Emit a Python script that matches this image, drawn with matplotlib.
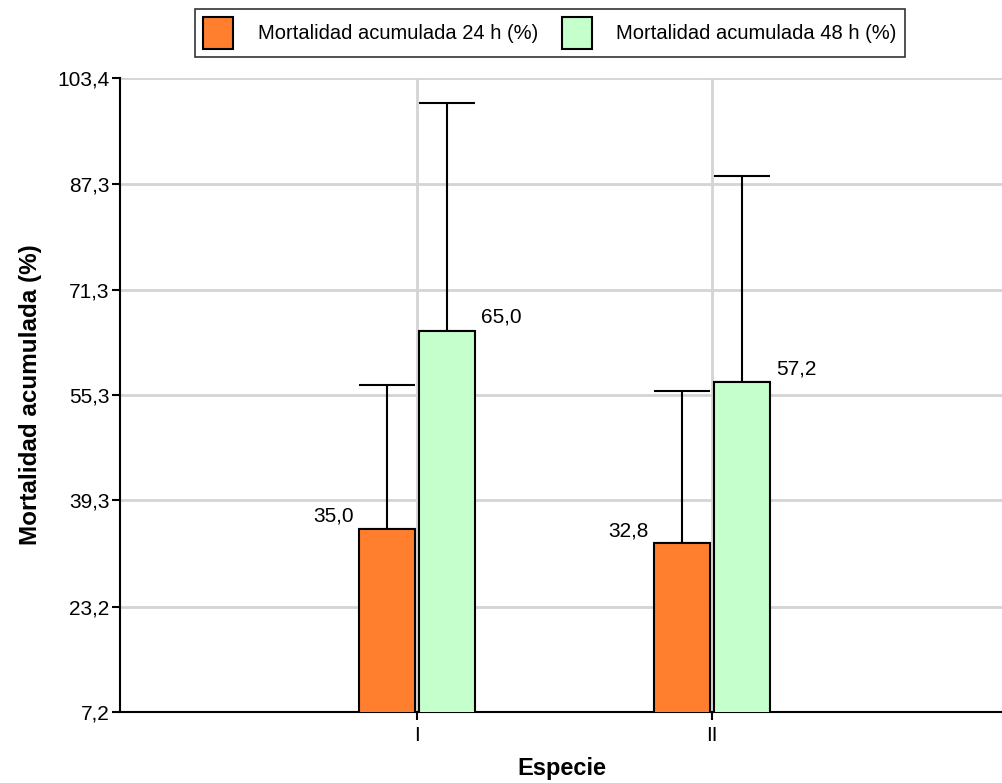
import matplotlib
matplotlib.use("Agg")
import matplotlib.pyplot as plt
from matplotlib.patches import Patch

plt.rcParams["font.family"] = ["Liberation Sans", "DejaVu Sans"]

# Data
species = ["I", "II"]
mort_24h = [35.0, 32.8]
mort_48h = [65.0, 57.2]
err_24h = [21.8, 23.1]
err_48h = [34.6, 31.3]
yticks = [7.2, 23.2, 39.3, 55.3, 71.3, 87.3, 103.4]
series_names = ["Mortalidad acumulada 24 h (%)", "Mortalidad acumulada 48 h (%)"]

c24 = "#FF7F2F"
c48 = "#C4FFCC"

fig = plt.figure(figsize=(10.03, 7.83), dpi=100)
ax = fig.add_axes([120 / 1003, 1 - 712 / 783, 1 - 120 / 1003, (712 - 78) / 783])

x = list(range(len(species)))
w = 0.19
off = 0.102
x24 = [i - off for i in x]
x48 = [i + off for i in x]

ax.bar(x24, mort_24h, width=w, bottom=0, color=c24, edgecolor="black", linewidth=1.5, zorder=3)
ax.bar(x48, mort_48h, width=w, bottom=0, color=c48, edgecolor="black", linewidth=1.5, zorder=3)

ax.errorbar(x24, mort_24h, yerr=[[0] * len(x), err_24h], fmt="none", ecolor="black",
            elinewidth=1.5, capsize=20, capthick=1.5, zorder=2)
ax.errorbar(x48, mort_48h, yerr=[[0] * len(x), err_48h], fmt="none", ecolor="black",
            elinewidth=1.5, capsize=20, capthick=1.5, zorder=2)

# value labels
for xi, v in zip(x24, mort_24h):
    ax.annotate(f"{v:.1f}".replace(".", ","), xy=(xi - w / 2, v), xytext=(-4, 5),
                textcoords="offset points", ha="right", va="baseline", fontsize=15, zorder=4)
for xi, v in zip(x48, mort_48h):
    ax.annotate(f"{v:.1f}".replace(".", ","), xy=(xi + w / 2, v), xytext=(4, 6),
                textcoords="offset points", ha="left", va="baseline", fontsize=15, zorder=4)

ax.set_ylim(yticks[0], yticks[-1])
ax.set_xlim(-1.007, 1.986)
ax.set_yticks(yticks)
ax.set_yticklabels([f"{t:.1f}".replace(".", ",") for t in yticks], fontsize=15)
ax.set_xticks(x)
ax.set_xticklabels(species, fontsize=15)

ax.grid(True, color="#D4D4D4", linewidth=2, zorder=0)
ax.set_axisbelow(True)

for s in ["top", "right"]:
    ax.spines[s].set_visible(False)
for s in ["left", "bottom"]:
    ax.spines[s].set_linewidth(1.5)
    ax.spines[s].set_color("black")
ax.tick_params(axis="both", direction="out", length=6, width=1.5, colors="black")
ax.tick_params(axis="y", pad=1.5)
ax.tick_params(axis="x", pad=4)

ax.set_xlabel("Especie", fontsize=17, fontweight="bold", labelpad=9)
ax.set_ylabel("Mortalidad acumulada (%)", fontsize=17.5, fontweight="bold", labelpad=11)

handles = [Patch(facecolor=c24, edgecolor="black", linewidth=1.5),
           Patch(facecolor=c48, edgecolor="black", linewidth=1.5)]
leg = fig.legend(handles, series_names, loc="center", bbox_to_anchor=(550 / 1003, 1 - 33 / 783),
                 ncol=2, fontsize=14.5, frameon=True, fancybox=False, edgecolor="black",
                 handlelength=1.5, handleheight=2.0, handletextpad=1.2, columnspacing=1.2,
                 borderpad=0.4, borderaxespad=0)
leg.get_frame().set_linewidth(1.2)

fig.savefig("out.png", dpi=100)
